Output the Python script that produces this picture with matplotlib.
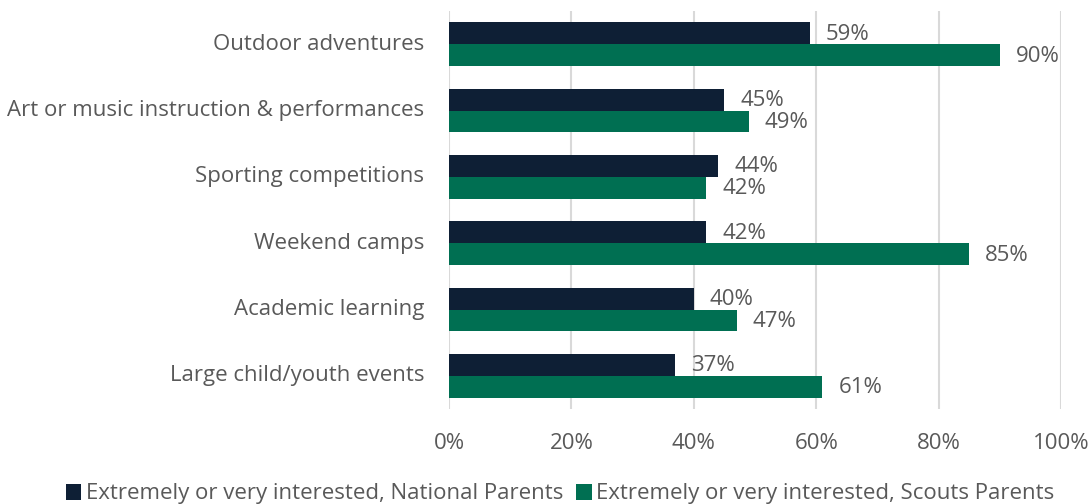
import matplotlib
matplotlib.use("Agg")
import matplotlib.pyplot as plt
import numpy as np

categories = ["Outdoor adventures", "Art or music instruction & performances",
              "Sporting competitions", "Weekend camps", "Academic learning",
              "Large child/youth events"]
national = [59, 45, 44, 42, 40, 37]
scouts = [90, 49, 42, 85, 47, 61]
series_names = ["Extremely or very interested, National Parents",
                "Extremely or very interested, Scouts Parents"]
xticks = [0, 20, 40, 60, 80, 100]
xticklabels = ["0%", "20%", "40%", "60%", "80%", "100%"]

navy = "#0E1F35"
green = "#006F52"
textc = "#595959"
fs = 16

plt.rcParams['font.family'] = ['Open Sans', 'DejaVu Sans']

fig = plt.figure(figsize=(10.91, 5.04), dpi=100)
ax = fig.add_axes([449/1091, 1-409/504, 612/1091, 398/504])

y = np.arange(len(categories))
h = 0.33
b1 = ax.barh(y - h/2, national, height=h, color=navy, label=series_names[0])
b2 = ax.barh(y + h/2, scouts, height=h, color=green, label=series_names[1])

for bars, vals in ((b1, national), (b2, scouts)):
    for rect, v in zip(bars, vals):
        ax.annotate(f"{v}%", (rect.get_width(), rect.get_y() + rect.get_height()/2),
                    xytext=(16, -1), textcoords="offset pixels",
                    ha="left", va="center", fontsize=fs, color=textc)

ax.set_xlim(0, 100)
ax.set_ylim(len(categories) - 0.5, -0.5)
ax.set_yticks(y)
ax.set_yticklabels(categories, fontsize=fs, color=textc, va="center")
ax.set_xticks(xticks)
ax.set_xticklabels(xticklabels, fontsize=fs, color=textc)
ax.tick_params(axis='y', length=0, pad=18)
ax.tick_params(axis='x', length=0, pad=17)
ax.grid(axis='x', color="#D9D9D9", linewidth=1.5)
ax.set_axisbelow(True)
for s in ax.spines.values():
    s.set_visible(False)

fig.legend(handles=[b1, b2], labels=series_names, loc="center",
           bbox_to_anchor=(560/1091, 1-494/504), ncol=2, frameon=False,
           fontsize=fs, labelcolor=textc, handlelength=0.7, handleheight=0.7,
           handletextpad=0.2, columnspacing=0.6)

fig.savefig("out.png", dpi=100)
